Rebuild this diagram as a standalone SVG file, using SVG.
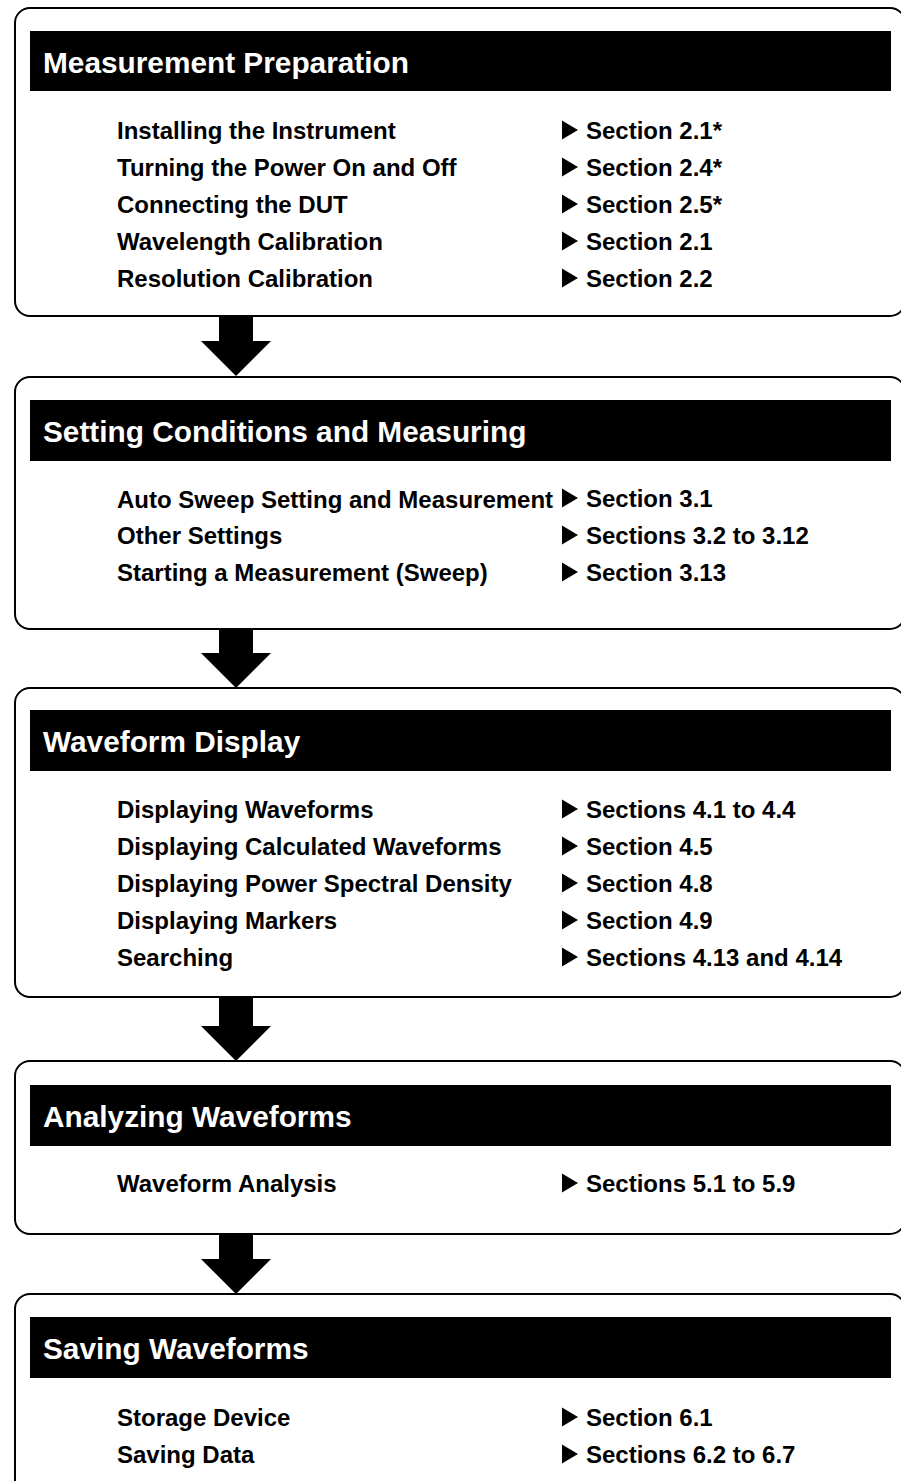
<svg xmlns="http://www.w3.org/2000/svg" width="901" height="1481" viewBox="0 0 901 1481">
<defs>
<style>
.box{fill:#fff;stroke:#000;stroke-width:2}
.hdr{fill:#000}
.ht{font-family:"Liberation Sans",Arial,sans-serif;font-weight:bold;font-size:29.8px;fill:#fff}
.bt{font-family:"Liberation Sans",Arial,sans-serif;font-weight:bold;font-size:24px;fill:#000}
.tri{fill:#000}
.arr{fill:#000}
</style>
<polygon id="tri" points="562,-18.5 562,0.5 578,-9"/>
</defs>
<rect width="901" height="1481" fill="#fff"/>
<g id="connectors">
<path class="arr" d="M219,316 H253 V341 H271 L236,376 L201,341 H219 Z"/>
<path class="arr" d="M219,629 H253 V653 H271 L236,688 L201,653 H219 Z"/>
<path class="arr" d="M219,997 H253 V1026 H271 L236,1061 L201,1026 H219 Z"/>
<path class="arr" d="M219,1234 H253 V1259 H271 L236,1294 L201,1259 H219 Z"/>
</g>
<g id="node1">
<rect class="box" x="15" y="8" width="890" height="308" rx="15"/>
<rect class="hdr" x="30" y="31" width="861" height="60"/>
<text class="ht" x="43" y="73">Measurement Preparation</text>
<text class="bt" x="117" y="139">Installing the Instrument</text>
<text class="bt" x="117" y="176">Turning the Power On and Off</text>
<text class="bt" x="117" y="213">Connecting the DUT</text>
<text class="bt" x="117" y="250">Wavelength Calibration</text>
<text class="bt" x="117" y="287">Resolution Calibration</text>
<use href="#tri" y="139"/><use href="#tri" y="176"/><use href="#tri" y="213"/><use href="#tri" y="250"/><use href="#tri" y="287"/>
<text class="bt" x="586" y="139">Section 2.1*</text>
<text class="bt" x="586" y="176">Section 2.4*</text>
<text class="bt" x="586" y="213">Section 2.5*</text>
<text class="bt" x="586" y="250">Section 2.1</text>
<text class="bt" x="586" y="287">Section 2.2</text>
</g>
<g id="node2">
<rect class="box" x="15" y="377" width="890" height="252" rx="15"/>
<rect class="hdr" x="30" y="400" width="861" height="61"/>
<text class="ht" x="43" y="442">Setting Conditions and Measuring</text>
<text class="bt" x="117" y="508">Auto Sweep Setting and Measurement</text>
<text class="bt" x="117" y="544">Other Settings</text>
<text class="bt" x="117" y="581">Starting a Measurement (Sweep)</text>
<use href="#tri" y="507"/><use href="#tri" y="544"/><use href="#tri" y="581"/>
<text class="bt" x="586" y="507">Section 3.1</text>
<text class="bt" x="586" y="544">Sections 3.2 to 3.12</text>
<text class="bt" x="586" y="581">Section 3.13</text>
</g>
<g id="node3">
<rect class="box" x="15" y="688" width="890" height="309" rx="15"/>
<rect class="hdr" x="30" y="710" width="861" height="61"/>
<text class="ht" x="43" y="752">Waveform Display</text>
<text class="bt" x="117" y="818">Displaying Waveforms</text>
<text class="bt" x="117" y="855">Displaying Calculated Waveforms</text>
<text class="bt" x="117" y="892">Displaying Power Spectral Density</text>
<text class="bt" x="117" y="929">Displaying Markers</text>
<text class="bt" x="117" y="966">Searching</text>
<use href="#tri" y="818"/><use href="#tri" y="855"/><use href="#tri" y="892"/><use href="#tri" y="929"/><use href="#tri" y="966"/>
<text class="bt" x="586" y="818">Sections 4.1 to 4.4</text>
<text class="bt" x="586" y="855">Section 4.5</text>
<text class="bt" x="586" y="892">Section 4.8</text>
<text class="bt" x="586" y="929">Section 4.9</text>
<text class="bt" x="586" y="966">Sections 4.13 and 4.14</text>
</g>
<g id="node4">
<rect class="box" x="15" y="1061" width="890" height="173" rx="15"/>
<rect class="hdr" x="30" y="1085" width="861" height="61"/>
<text class="ht" x="43" y="1127">Analyzing Waveforms</text>
<text class="bt" x="117" y="1192">Waveform Analysis</text>
<use href="#tri" y="1192"/>
<text class="bt" x="586" y="1192">Sections 5.1 to 5.9</text>
</g>
<g id="node5">
<rect class="box" x="15" y="1294" width="890" height="220" rx="15"/>
<rect class="hdr" x="30" y="1317" width="861" height="61"/>
<text class="ht" x="43" y="1359">Saving Waveforms</text>
<text class="bt" x="117" y="1426">Storage Device</text>
<text class="bt" x="117" y="1463">Saving Data</text>
<use href="#tri" y="1426"/><use href="#tri" y="1463"/>
<text class="bt" x="586" y="1426">Section 6.1</text>
<text class="bt" x="586" y="1463">Sections 6.2 to 6.7</text>
</g>
</svg>
